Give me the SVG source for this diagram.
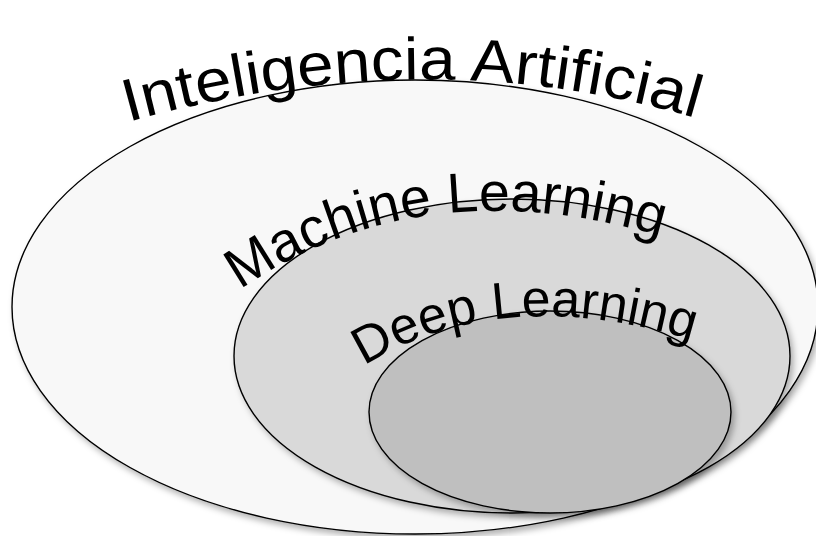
<svg xmlns="http://www.w3.org/2000/svg" xmlns:xlink="http://www.w3.org/1999/xlink" width="816" height="536" viewBox="0 0 816 536">
  <style>
    .set { stroke: #000; stroke-width: 1.4; filter: url(#shadow); }
    .label { font-family: "Liberation Sans", "DejaVu Sans", sans-serif; fill: #000; }
  </style>
  <defs>
    <filter id="shadow" x="-5%" y="-5%" width="115%" height="120%">
      <feDropShadow dx="3" dy="4" stdDeviation="3" flood-color="#000" flood-opacity="0.3"/>
    </filter>
    <!-- curved baselines for the labels -->
    <path id="arc-ai" d="M 128 122 Q 430 38 702 120" fill="none"/>
    <path id="arc-ml" d="M 240 290 Q 420 166 660 236" fill="none"/>
    <path id="arc-dl" d="M 364 366 Q 500 282 692 340" fill="none"/>
  </defs>
  <rect width="816" height="536" fill="#fff"/>

  <g id="ai">
    <ellipse class="set" cx="415" cy="307" rx="403" ry="227" fill="#f8f8f8"/>
    <text class="label" font-size="60"><textPath xlink:href="#arc-ai" textLength="575" lengthAdjust="spacingAndGlyphs">Inteligencia Artificial</textPath></text>
  </g>

  <g id="ml">
    <ellipse class="set" cx="512" cy="356" rx="278" ry="157" fill="#d9d9d9"/>
    <text class="label" font-size="56"><textPath xlink:href="#arc-ml" textLength="440" lengthAdjust="spacingAndGlyphs">Machine Learning</textPath></text>
  </g>

  <g id="dl">
    <ellipse class="set" cx="550" cy="412" rx="181" ry="101" fill="#bfbfbf"/>
    <text class="label" font-size="52"><textPath xlink:href="#arc-dl" textLength="340" lengthAdjust="spacingAndGlyphs">Deep Learning</textPath></text>
  </g>
</svg>
